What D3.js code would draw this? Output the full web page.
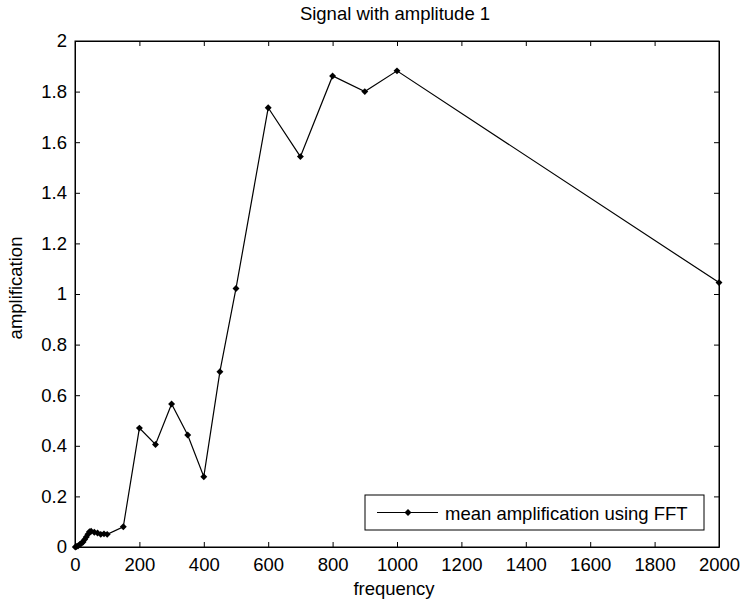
<!DOCTYPE html>
<html>
<head>
<meta charset="utf-8">
<script src="https://cdn.jsdelivr.net/npm/d3@7"></script>
<style>
  body { margin: 0; background: #fff; }
  svg text { font-family: "Liberation Sans", Arial, sans-serif; fill: #000; }
</style>
</head>
<body>
<svg id="chart" width="741" height="603"></svg>
<script>
// data
const frequency = [1, 5, 10, 15, 20, 25, 30, 35, 40, 45, 50, 60, 70, 80, 90, 100, 150,
  200, 250, 300, 350, 400, 450, 500, 600, 700, 800, 900, 1000, 2000];
const amplification = [0, 0.002, 0.005, 0.01, 0.015, 0.02, 0.03, 0.04, 0.05, 0.06, 0.062, 0.058, 0.055, 0.05, 0.052, 0.05, 0.08,
  0.47, 0.405, 0.565, 0.443, 0.278, 0.693, 1.022, 1.736, 1.543, 1.862, 1.80, 1.882, 1.045];
const xTicks = [0, 200, 400, 600, 800, 1000, 1200, 1400, 1600, 1800, 2000];
const yTicks = [0, 0.2, 0.4, 0.6, 0.8, 1, 1.2, 1.4, 1.6, 1.8, 2];

const plotL = 75, plotR = 719, plotT = 41, plotB = 547;
const tick = 5;
const fontSize = 18.5;

const svg = d3.select("#chart");

const x = d3.scaleLinear().domain([0, 2000]).range([plotL, plotR]);
const y = d3.scaleLinear().domain([0, 2]).range([plotB, plotT]);

const fmt = d => String(+d.toFixed(1));

// box
svg.append("rect")
  .attr("x", plotL).attr("y", plotT)
  .attr("width", plotR - plotL).attr("height", plotB - plotT)
  .attr("fill", "none").attr("stroke", "#000").attr("stroke-width", 1);

// axes with inward ticks
const xAxis = svg.append("g").attr("transform", `translate(0,${plotB})`)
  .call(d3.axisBottom(x).tickValues(xTicks).tickSizeInner(-tick).tickSizeOuter(0).tickPadding(11).tickFormat(fmt));
const xTop = svg.append("g").attr("transform", `translate(0,${plotT})`)
  .call(d3.axisTop(x).tickValues(xTicks).tickSizeInner(-tick).tickSizeOuter(0).tickFormat(""));
const yAxis = svg.append("g").attr("transform", `translate(${plotL},0)`)
  .call(d3.axisLeft(y).tickValues(yTicks).tickSizeInner(-tick).tickSizeOuter(0).tickPadding(8).tickFormat(fmt));
const yRight = svg.append("g").attr("transform", `translate(${plotR},0)`)
  .call(d3.axisRight(y).tickValues(yTicks).tickSizeInner(-tick).tickSizeOuter(0).tickFormat(""));

[xAxis, xTop, yAxis, yRight].forEach(g => {
  g.select(".domain").attr("stroke", "#000");
  g.selectAll(".tick line").attr("stroke", "#000");
  g.selectAll("text").attr("font-size", fontSize).attr("font-family", "Liberation Sans, Arial, sans-serif");
});

// line
const pts = frequency.map((f, i) => [f, amplification[i]]);
svg.append("path")
  .datum(pts)
  .attr("fill", "none").attr("stroke", "#000").attr("stroke-width", 1.2)
  .attr("d", d3.line().x(d => x(d[0])).y(d => y(d[1])));

const marker = d3.symbol().type(d3.symbolSquare).size(24);
svg.append("g").selectAll("path")
  .data(pts)
  .enter().append("path")
  .attr("transform", d => `translate(${x(d[0])},${y(d[1])}) rotate(45)`)
  .attr("d", marker)
  .attr("fill", "#000");

// labels
svg.append("text").attr("x", 395).attr("y", 20)
  .attr("text-anchor", "middle").attr("font-size", fontSize).text("Signal with amplitude 1");
svg.append("text").attr("x", 394).attr("y", 595)
  .attr("text-anchor", "middle").attr("font-size", fontSize).text("frequency");
svg.append("text").attr("transform", `translate(22,288) rotate(-90)`)
  .attr("text-anchor", "middle").attr("font-size", fontSize).text("amplification");

// legend
const lg = svg.append("g");
lg.append("rect").attr("x", 365).attr("y", 495).attr("width", 339).attr("height", 35)
  .attr("fill", "#fff").attr("stroke", "#000").attr("stroke-width", 1);
lg.append("line").attr("x1", 377).attr("x2", 438).attr("y1", 512.5).attr("y2", 512.5)
  .attr("stroke", "#000").attr("stroke-width", 1.2);
lg.append("path").attr("transform", "translate(408,512.5) rotate(45)").attr("d", marker).attr("fill", "#000");
lg.append("text").attr("x", 445).attr("y", 520).attr("font-size", fontSize).text("mean amplification using FFT");
</script>
</body>
</html>
